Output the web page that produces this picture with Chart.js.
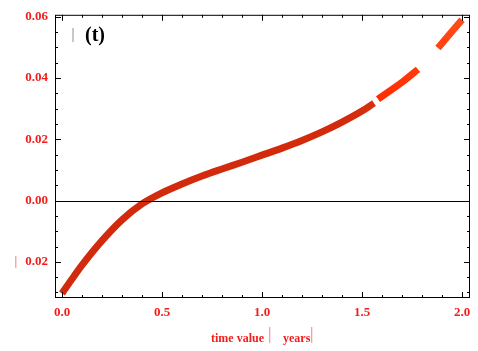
<!DOCTYPE html>
<html>
<head>
<meta charset="utf-8">
<script src="https://cdn.jsdelivr.net/npm/chart.js@4"></script>
<style>
  html, body { margin: 0; padding: 0; background: #fff; }
  #wrap { width: 478px; height: 351px; }
</style>
</head>
<body>
<div id="wrap"><canvas id="chart" width="478" height="351"></canvas></div>
<script>
// values
const timeValues = [0.0, 0.05, 0.1, 0.2, 0.3, 0.4, 0.5, 0.6, 0.7, 0.8, 0.9, 1.0, 1.1, 1.2, 1.3, 1.4, 1.5, 1.56, 1.57, 1.58, 1.7, 1.78, 1.83, 1.88, 2.0];
const phiValues = [-0.0303, -0.0256, -0.0211, -0.0131, -0.0063, -0.0011, 0.0025, 0.0054, 0.0080, 0.0103, 0.0125, 0.0148, 0.0171, 0.0196, 0.0224, 0.0256, 0.0292, 0.0318, null, 0.0331, 0.0386, 0.0428, null, 0.0498, 0.0590];
const xTicks = [0.0, 0.5, 1.0, 1.5, 2.0];
const yTicks = [-0.02, 0.00, 0.02, 0.04, 0.06];
const xMinor = [0.1, 0.2, 0.3, 0.4, 0.6, 0.7, 0.8, 0.9, 1.1, 1.2, 1.3, 1.4, 1.6, 1.7, 1.8, 1.9];
const yMinor = [-0.03, -0.025, -0.015, -0.01, -0.005, 0.005, 0.01, 0.015, 0.025, 0.03, 0.035, 0.045, 0.05, 0.055];

const red = '#f51c1c';
const labelFont = { family: 'Liberation Serif', size: 13, weight: 'bold' };

const points = timeValues.map((t, i) => ({ x: t, y: phiValues[i] }));

function lineColor(context) {
    const chart = context.chart;
    if (!chart.chartArea) return '#d42a0c';
    const xs = chart.scales.x;
    const g = chart.ctx.createLinearGradient(xs.getPixelForValue(0), 0, xs.getPixelForValue(2), 0);
    g.addColorStop(0, '#d22a0c');
    g.addColorStop(0.7, '#d42a0c');
    g.addColorStop(0.78, '#d8300e');
    g.addColorStop(0.79, '#ff2c00');
    g.addColorStop(0.9, '#ff3c10');
    g.addColorStop(1, '#ff4c18');
    return g;
}

// frame, inward ticks, zero line and the extra texts
const framePlugin = {
    id: 'frame',
    afterDraw(chart) {
        const { ctx, chartArea: a, scales: { x, y } } = chart;
        ctx.save();
        ctx.strokeStyle = '#000';
        ctx.lineWidth = 1;
        // zero line
        const y0 = Math.round(y.getPixelForValue(0)) + 0.5;
        ctx.beginPath();
        ctx.moveTo(a.left, y0);
        ctx.lineTo(a.right, y0);
        ctx.stroke();
        // frame
        ctx.strokeRect(a.left + 0.5, a.top + 0.5, a.right - a.left - 1, a.bottom - a.top - 1);
        // ticks
        ctx.beginPath();
        const tick = (vals, len, horiz) => {
            vals.forEach(v => {
                if (horiz) {
                    const px = Math.round(x.getPixelForValue(v)) + 0.5;
                    ctx.moveTo(px, a.bottom); ctx.lineTo(px, a.bottom - len);
                    ctx.moveTo(px, a.top); ctx.lineTo(px, a.top + len);
                } else {
                    const py = Math.round(y.getPixelForValue(v)) + 0.5;
                    ctx.moveTo(a.left, py); ctx.lineTo(a.left + len, py);
                    ctx.moveTo(a.right, py); ctx.lineTo(a.right - len, py);
                }
            });
        };
        tick(xTicks, 6, true);
        tick(xMinor, 3, true);
        tick(yTicks, 6, false);
        tick(yMinor, 3, false);
        ctx.stroke();

        // panel label
        ctx.textBaseline = 'middle';
        ctx.fillStyle = '#c8c8c8';
        ctx.fillRect(72, 28, 2, 14);
        ctx.fillStyle = '#000';
        ctx.font = 'bold 20px "Liberation Serif"';
        ctx.textAlign = 'left';
        ctx.fillText('(t)', 85, 36);

        // missing minus sign on -0.02
        ctx.fillStyle = '#f8a8a8';
        const ym = y.getPixelForValue(-0.02);
        ctx.fillRect(15, ym - 6, 1.5, 12);

        // x axis title
        ctx.font = 'bold 12px "Liberation Serif"';
        ctx.fillStyle = red;
        ctx.textBaseline = 'alphabetic';
        ctx.fillText('time value', 211, 342);
        ctx.fillText('years', 283, 342);
        ctx.fillStyle = '#f8a0a0';
        ctx.fillRect(269, 327, 1.3, 16);
        ctx.fillRect(311, 327, 1.3, 16);
        ctx.restore();
    }
};

new Chart(document.getElementById('chart'), {
    type: 'line',
    data: {
        datasets: [{
            data: points,
            borderColor: lineColor,
            borderWidth: 7,
            borderCapStyle: 'butt',
            pointRadius: 0,
            cubicInterpolationMode: 'monotone',
            spanGaps: false,
            fill: false
        }]
    },
    options: {
        responsive: false,
        animation: false,
        layout: { padding: { top: 10, right: 8, left: 0, bottom: 0 } },
        plugins: { legend: { display: false }, tooltip: { enabled: false } },
        scales: {
            x: {
                type: 'linear',
                min: -0.035,
                max: 2.04,
                afterBuildTicks: s => { s.ticks = xTicks.map(v => ({ value: v })); },
                afterFit: s => { s.height = 53; },
                grid: { display: false, drawTicks: false },
                border: { display: false },
                ticks: {
                    color: red,
                    font: labelFont,
                    padding: 7,
                    maxRotation: 0,
                    callback: v => v.toFixed(1)
                }
            },
            y: {
                type: 'linear',
                min: -0.0318,
                max: 0.0606,
                afterBuildTicks: s => { s.ticks = yTicks.map(v => ({ value: v })); },
                afterFit: s => { s.width = 55; },
                grid: { display: false, drawTicks: false },
                border: { display: false },
                ticks: {
                    color: red,
                    font: labelFont,
                    padding: 7,
                    callback: v => Math.abs(v).toFixed(2)
                }
            }
        }
    },
    plugins: [framePlugin]
});
</script>
</body>
</html>
